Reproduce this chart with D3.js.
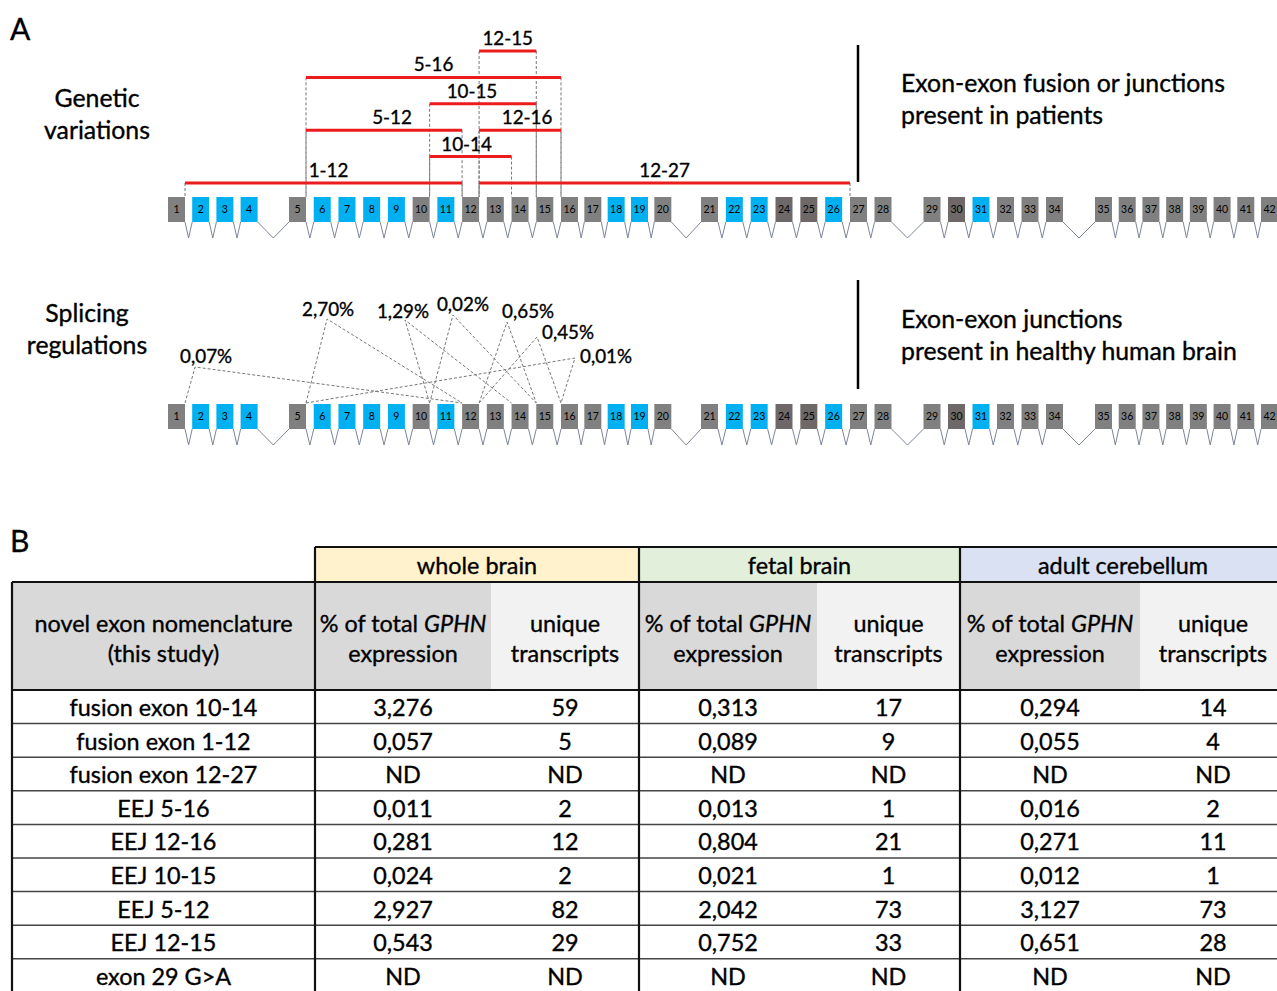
<!DOCTYPE html>
<html>
<head>
<meta charset="utf-8">
<script src="https://cdn.jsdelivr.net/npm/d3@7"></script>
<style>
  body { margin: 0; background: #fff; }
  svg text { font-family: Lato, "Open Sans", sans-serif; fill: #000; stroke: #000; stroke-width: 0.35px; }
  svg text.exon { stroke: none; }
</style>
</head>
<body>
<div id="figure"></div>
<script>
// Data
const exons = d3.range(1, 43)
const blueExons = [2, 3, 4, 6, 7, 8, 9, 11, 18, 19, 22, 23, 26, 31]
const darkExons = [24, 25, 30]
const longIntronsAfter = [4, 20, 28, 34]

const fusionLabels = ['12-15', '5-16', '10-15', '5-12', '12-16', '10-14', '1-12', '12-27']
const fusionFrom = [12, 5, 10, 5, 12, 10, 1, 12]
const fusionTo = [15, 16, 15, 12, 16, 14, 12, 27]
const fusionTier = [0, 1, 2, 3, 3, 4, 5, 5]

const spliceLabels = ['0,07%', '2,70%', '1,29%', '0,02%', '0,65%', '0,45%', '0,01%']
const spliceFrom = [1, 5, 10, 10, 12, 12, 5]
const spliceTo = [12, 12, 14, 15, 15, 16, 16]
// apex of each dashed wedge: position in exon slots, height above the gene
const spliceApexSlot = [1.12, 6.54, 9.69, 11.63, 13.82, 15.03, 16.6]
const spliceApexHeight = [37, 85, 84, 89, 82, 67, 46]

const tissues = ['whole brain', 'fetal brain', 'adult cerebellum']
const rowLabels = ['fusion exon 10-14', 'fusion exon 1-12', 'fusion exon 12-27', 'EEJ 5-16',
  'EEJ 12-16', 'EEJ 10-15', 'EEJ 5-12', 'EEJ 12-15', 'exon 29 G>A']
const wholePct = ['3,276', '0,057', 'ND', '0,011', '0,281', '0,024', '2,927', '0,543', 'ND']
const wholeUnique = ['59', '5', 'ND', '2', '12', '2', '82', '29', 'ND']
const fetalPct = ['0,313', '0,089', 'ND', '0,013', '0,804', '0,021', '2,042', '0,752', 'ND']
const fetalUnique = ['17', '9', 'ND', '1', '21', '1', '73', '33', 'ND']
const adultPct = ['0,294', '0,055', 'ND', '0,016', '0,271', '0,012', '3,127', '0,651', 'ND']
const adultUnique = ['14', '4', 'ND', '2', '11', '1', '73', '28', 'ND']

// Dimensions
const width = 1277
const height = 991
const boxW = 17
const boxH = 25
const bodyFont = 23.4

const svg = d3.select('#figure')
  .append('svg')
  .attr('width', width)
  .attr('height', height)

svg.append('rect').attr('width', width).attr('height', height).attr('fill', '#fff')

// Scales
const slot = e => (e - 1) + longIntronsAfter.filter(v => v < e).length
const x = d3.scaleLinear()
  .domain([0, 5, 16, 22, 28, 38, 45])
  .range([168, 289, 561, 701, 850, 1095, 1261])
const left = e => x(slot(e))
const right = e => x(slot(e)) + boxW

function exonColor(e) {
  if (blueExons.includes(e)) return '#00b0f0'
  if (darkExons.includes(e)) return '#6e6868'
  return '#808080'
}

function drawGene(top) {
  const g = svg.append('g')
  const pairs = d3.pairs(exons)
  g.selectAll('path')
    .data(pairs)
    .join('path')
    .attr('d', ([a, b]) => `M${right(a)},${top + boxH} L${(right(a) + left(b)) / 2},${top + boxH + 16} L${left(b)},${top + boxH}`)
    .attr('fill', 'none')
    .attr('stroke', '#7d8599')
    .attr('stroke-width', 1)
  g.selectAll('rect')
    .data(exons)
    .join('rect')
    .attr('x', left)
    .attr('y', top)
    .attr('width', boxW)
    .attr('height', boxH)
    .attr('fill', exonColor)
  g.selectAll('text')
    .data(exons)
    .join('text')
    .attr('class', 'exon')
    .attr('x', e => left(e) + boxW / 2)
    .attr('y', top + 16)
    .attr('text-anchor', 'middle')
    .attr('font-size', 10.5)
    .text(d => d)
}

// Panel A
svg.append('text').attr('x', 10).attr('y', 40).attr('font-size', 30).text('A')

const geneTop1 = 197
const geneTop2 = 404

const tierY = d3.scaleLinear().domain([0, 5]).range([51, 183])
const fusionLabelDx = [0, 0, -11, 8, 7, -4, 5, 0]
const fusions = fusionLabels.map((label, i) => ({
  label, from: fusionFrom[i], to: fusionTo[i], y: tierY(fusionTier[i]), dx: fusionLabelDx[i]
}))

const dashG = svg.append('g')
  .attr('stroke', '#777')
  .attr('stroke-width', 1)
  .attr('stroke-dasharray', '3,2')
fusions.forEach(f => {
  dashG.append('line').attr('x1', right(f.from)).attr('x2', right(f.from))
    .attr('y1', f.y).attr('y2', geneTop1)
  dashG.append('line').attr('x1', left(f.to)).attr('x2', left(f.to))
    .attr('y1', f.y).attr('y2', geneTop1)
})

svg.append('g')
  .selectAll('line')
  .data(fusions)
  .join('line')
  .attr('x1', d => right(d.from))
  .attr('x2', d => left(d.to))
  .attr('y1', d => d.y)
  .attr('y2', d => d.y)
  .attr('stroke', '#ec1c1c')
  .attr('stroke-width', 3)

svg.append('g')
  .selectAll('text')
  .data(fusions)
  .join('text')
  .attr('x', d => (right(d.from) + left(d.to)) / 2 + d.dx)
  .attr('y', d => d.y - 6)
  .attr('text-anchor', 'middle')
  .attr('font-size', 18.8)
  .text(d => d.label)

drawGene(geneTop1)

// splicing wedges
const apexY = d3.scaleLinear().domain([0, 100]).range([geneTop2, geneTop2 - 100])
const splices = spliceLabels.map((label, i) => ({
  label, from: spliceFrom[i], to: spliceTo[i],
  ax: x(spliceApexSlot[i]), ay: apexY(spliceApexHeight[i])
}))
const labelDx = [-15, -25, -28, -16, -5, 5, 5]
const labelDy = [-4, -3, -2, -4, -4, 2, 5]

svg.append('g')
  .selectAll('path')
  .data(splices)
  .join('path')
  .attr('d', d => `M${right(d.from)},${geneTop2 - 1} L${d.ax},${d.ay} L${left(d.to)},${geneTop2 - 1}`)
  .attr('fill', 'none')
  .attr('stroke', '#777')
  .attr('stroke-width', 1)
  .attr('stroke-dasharray', '3,2')

svg.append('g')
  .selectAll('text')
  .data(splices)
  .join('text')
  .attr('x', (d, i) => d.ax + labelDx[i])
  .attr('y', (d, i) => d.ay + labelDy[i])
  .attr('font-size', 18.8)
  .text(d => d.label)

drawGene(geneTop2)

// side captions
function caption(lines, cx, y0, anchor) {
  const t = svg.append('text')
    .attr('x', cx)
    .attr('y', y0)
    .attr('font-size', 24.8)
    .attr('text-anchor', anchor)
  lines.forEach((l, i) => t.append('tspan').attr('x', cx).attr('dy', i ? 32 : 0).text(l))
}
caption(['Genetic', 'variations'], 97, 107, 'middle')
caption(['Splicing', 'regulations'], 87, 322, 'middle')
caption(['Exon-exon fusion or junctions', 'present in patients'], 901, 92, 'start')
caption(['Exon-exon junctions', 'present in healthy human brain'], 901, 328, 'start')

svg.append('line').attr('x1', 858).attr('x2', 858).attr('y1', 45).attr('y2', 182)
  .attr('stroke', '#000').attr('stroke-width', 2.5)
svg.append('line').attr('x1', 858).attr('x2', 858).attr('y1', 280).attr('y2', 389)
  .attr('stroke', '#000').attr('stroke-width', 2.5)

// Panel B
svg.append('text').attr('x', 10).attr('y', 552).attr('font-size', 30).text('B')

const colEdges = [12, 315, 491, 639, 817, 960, 1140, 1286]
const groupFill = ['#fff2cc', '#e2efda', '#d9e1f2']
const headTop = 547, headMid = 582, headBottom = 690
const rowH = 33.6
const yRow = d3.scaleBand().domain(rowLabels).range([headBottom, headBottom + rowLabels.length * rowH])

const table = svg.append('g')

// group header
table.selectAll('rect.group')
  .data(tissues)
  .join('rect')
  .attr('class', 'group')
  .attr('x', (d, i) => colEdges[1 + 2 * i])
  .attr('y', headTop)
  .attr('width', (d, i) => colEdges[3 + 2 * i] - colEdges[1 + 2 * i])
  .attr('height', headMid - headTop)
  .attr('fill', (d, i) => groupFill[i])
table.selectAll('text.group')
  .data(tissues)
  .join('text')
  .attr('class', 'group')
  .attr('x', (d, i) => (colEdges[1 + 2 * i] + colEdges[3 + 2 * i]) / 2)
  .attr('y', headMid - 8)
  .attr('text-anchor', 'middle')
  .attr('font-size', bodyFont)
  .text(d => d)

// column header cells
const headCols = d3.range(7)
table.selectAll('rect.head')
  .data(headCols)
  .join('rect')
  .attr('class', 'head')
  .attr('x', i => colEdges[i])
  .attr('y', headMid)
  .attr('width', i => colEdges[i + 1] - colEdges[i])
  .attr('height', headBottom - headMid)
  .attr('fill', i => (i > 0 && i % 2 === 0) ? '#f2f2f2' : '#d9d9d9')

function headText(cx, line1, line2, italic) {
  const t = table.append('text')
    .attr('x', cx)
    .attr('y', 632)
    .attr('text-anchor', 'middle')
    .attr('font-size', bodyFont)
  if (italic) {
    t.append('tspan').text('% of total ')
    t.append('tspan').attr('font-style', 'italic').text('GPHN')
  } else {
    t.text(line1)
  }
  table.append('text')
    .attr('x', cx)
    .attr('y', 662)
    .attr('text-anchor', 'middle')
    .attr('font-size', bodyFont)
    .text(line2)
}
headText((colEdges[0] + colEdges[1]) / 2, 'novel exon nomenclature', '(this study)', false)
tissues.forEach((t, i) => {
  const a = colEdges[1 + 2 * i], b = colEdges[2 + 2 * i], c = colEdges[3 + 2 * i]
  headText((a + b) / 2, null, 'expression', true)
  headText((b + c) / 2, 'unique', 'transcripts', false)
})

// body
const columns = [rowLabels, wholePct, wholeUnique, fetalPct, fetalUnique, adultPct, adultUnique]
columns.forEach((col, ci) => {
  table.append('g')
    .selectAll('text')
    .data(col)
    .join('text')
    .attr('x', (colEdges[ci] + colEdges[ci + 1]) / 2)
    .attr('y', (d, i) => yRow(rowLabels[i]) + 26)
    .attr('text-anchor', 'middle')
    .attr('font-size', bodyFont)
    .text(d => d)
})

// grid lines
table.append('g')
  .selectAll('line')
  .data(rowLabels.slice(1))
  .join('line')
  .attr('x1', colEdges[0])
  .attr('x2', width)
  .attr('y1', d => yRow(d))
  .attr('y2', d => yRow(d))
  .attr('stroke', '#444')
  .attr('stroke-width', 1.5)

const thick = table.append('g').attr('stroke', '#111').attr('stroke-width', 2.2)
thick.append('line').attr('x1', colEdges[1]).attr('x2', width).attr('y1', headTop).attr('y2', headTop)
thick.append('line').attr('x1', colEdges[0]).attr('x2', width).attr('y1', headMid).attr('y2', headMid)
thick.append('line').attr('x1', colEdges[0]).attr('x2', width).attr('y1', headBottom).attr('y2', headBottom)
thick.append('line').attr('x1', colEdges[0]).attr('x2', colEdges[0]).attr('y1', headMid).attr('y2', height)
;[1, 3, 5].forEach(i => {
  thick.append('line').attr('x1', colEdges[i]).attr('x2', colEdges[i]).attr('y1', headTop).attr('y2', height)
})
</script>
</body>
</html>
